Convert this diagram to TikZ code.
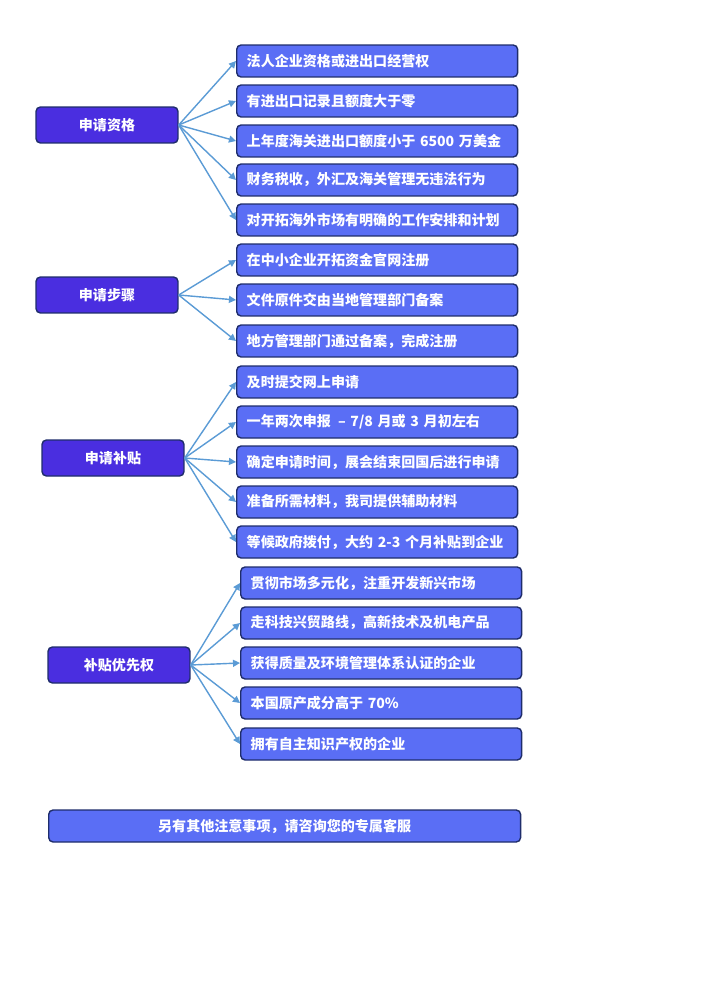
\documentclass[tikz,border=0pt]{standalone}
\usepackage{fontspec}
\newfontfamily\cjk{Noto Sans CJK SC}
\usepackage{tikz}
\usetikzlibrary{arrows.meta,positioning}
\definecolor{headblue}{HTML}{4A2EE0}
\definecolor{itemblue}{HTML}{5A6EF5}
\definecolor{edgenavy}{HTML}{1F2D6B}
\definecolor{arrowblue}{HTML}{5B9BD5}
\tikzset{
  head/.style={draw=edgenavy,line width=0.8pt,fill=headblue,rounded corners=2.5pt,
    minimum width=2.84cm,minimum height=0.72cm,text=white,font=\cjk\bfseries\fontsize{8}{9}\selectfont},
  item/.style={draw=edgenavy,line width=0.8pt,fill=itemblue,rounded corners=2.5pt,
    minimum height=0.64cm,inner xsep=0.2cm,text width=5.22cm,align=left,anchor=west,
    text=white,font=\cjk\bfseries\fontsize{8}{9}\selectfont},
  arr/.style={draw=arrowblue,line width=0.8pt,-{Triangle[length=4pt,width=4pt]}}
}
\begin{document}
\begin{tikzpicture}[x=0.02cm,y=-0.02cm]
  \useasboundingbox (0,0) rectangle (707,1000);
  % left column
  \node[head] (zg) at (107,125) {申请资格};
  \node[head] (bz) at (107,295) {申请步骤};
  \node[head] (bt) at (113,458) {申请补贴};
  \node[head] (yx) at (119,665) {补贴优先权};
  % 申请资格
  \node[item] (q1) at (236,61) {法人企业资格或进出口经营权};
  \node[item] (q2) at (236,101) {有进出口记录且额度大于零};
  \node[item] (q3) at (236,141) {上年度海关进出口额度小于 6500 万美金};
  \node[item] (q4) at (236,180) {财务税收，外汇及海关管理无违法行为};
  \node[item] (q5) at (236,220) {对开拓海外市场有明确的工作安排和计划};
  % 申请步骤
  \node[item] (s1) at (236,260) {在中小企业开拓资金官网注册};
  \node[item] (s2) at (236,300) {文件原件交由当地管理部门备案};
  \node[item] (s3) at (236,341) {地方管理部门通过备案，完成注册};
  % 申请补贴
  \node[item] (b1) at (236,382) {及时提交网上申请};
  \node[item] (b2) at (236,422) {一年两次申报 \,– 7/8 月或 3 月初左右};
  \node[item] (b3) at (236,462) {确定申请时间，展会结束回国后进行申请};
  \node[item] (b4) at (236,502) {准备所需材料，我司提供辅助材料};
  \node[item] (b5) at (236,542) {等候政府拨付，大约 2-3 个月补贴到企业};
  % 补贴优先权
  \node[item] (p1) at (240,583) {贯彻市场多元化，注重开发新兴市场};
  \node[item] (p2) at (240,623) {走科技兴贸路线，高新技术及机电产品};
  \node[item] (p3) at (240,663) {获得质量及环境管理体系认证的企业};
  \node[item] (p4) at (240,703) {本国原产成分高于 70\%};
  \node[item] (p5) at (240,744) {拥有自主知识产权的企业};
  % note
  \node[item,text width=9.04cm,align=center] (note) at (48,826) {另有其他注意事项，请咨询您的专属客服};
  % arrows
  \foreach \t in {q1,q2,q3,q4,q5} \draw[arr] (zg.east) -- (\t.west);
  \foreach \t in {s1,s2,s3} \draw[arr] (bz.east) -- (\t.west);
  \foreach \t in {b1,b2,b3,b4,b5} \draw[arr] (bt.east) -- (\t.west);
  \foreach \t in {p1,p2,p3,p4,p5} \draw[arr] (yx.east) -- (\t.west);
\end{tikzpicture}
\end{document}
